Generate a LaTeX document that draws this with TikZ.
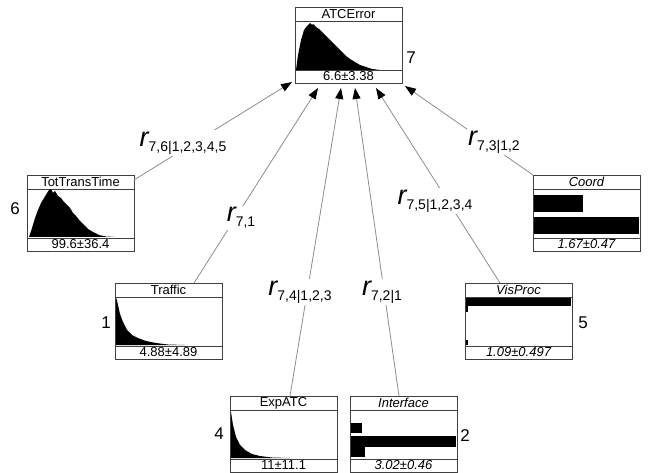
\documentclass[tikz,border=0pt]{standalone}
\usepackage{fontspec}
\setmainfont{Liberation Sans}
\usetikzlibrary{arrows.meta,calc}
\tikzset{
  nbox/.style={draw=black!75, line width=0.8pt, minimum width=107pt, minimum height=76pt, inner sep=0pt, outer sep=0pt},
  sep/.style={draw=black!75, line width=0.8pt},
  ttl/.style={font=\fontsize{13}{13}\selectfont, inner sep=0pt},
  conn/.style={draw=black!45, line width=0.8pt, -{Triangle[length=11pt,width=8pt,fill=black,color=black]}},
  rlab/.style={fill=white, inner sep=1.5pt},
  num/.style={font=\fontsize{17}{17}\selectfont, inner sep=0pt},
  bar/.style={fill=black, draw=none}
}
\newcommand{\histbox}[6]{%
  \node[nbox, anchor=north west] (#1) at (#2,#3) {};
  \draw[sep] ([yshift=-14pt]#1.north west) -- ([yshift=-14pt]#1.north east);
  \draw[sep] ([yshift=13pt]#1.south west) -- ([yshift=13pt]#1.south east);
  \node[ttl] at ([yshift=-7pt]#1.north) {#6#4};
  \node[ttl] at ([yshift=6.5pt]#1.south) {#6#5};
}
\newcommand{\rlabel}[1]{{\fontsize{27}{27}\selectfont\itshape r}\raisebox{-5pt}{\fontsize{14}{14}\selectfont #1}}
\begin{document}
\begin{tikzpicture}[x=1pt,y=-1pt]
\useasboundingbox (0,0) rectangle (648,473);
% boxes
\histbox{ATC}{295}{7}{ATCError}{6.6±3.38}{}
\histbox{TT}{27}{175}{TotTransTime}{99.6±36.4}{}
\histbox{TR}{115}{283}{Traffic}{4.88±4.89}{}
\histbox{EX}{230}{396}{ExpATC}{11±11.1}{}
\histbox{IF}{350}{396}{Interface}{3.02±0.46}{\itshape}
\histbox{VP}{465}{283}{VisProc}{1.09±0.497}{\itshape}
\histbox{CO}{533}{175}{Coord}{1.67±0.47}{\itshape}
% histograms
\fill[black] (296,70) -- (298,55) -- (301,40) -- (304,30) -- (307,26) -- (310,23) -- (312,25) -- (313,24) -- (316,27) -- (319,29) -- (322,32) -- (325,35) -- (328,38) -- (331,41) -- (334,44) -- (338,48) -- (342,52) -- (346,56) -- (350,59) -- (355,62) -- (360,65) -- (366,67) -- (372,69) -- (380,70) -- cycle;
\fill[black] (29,237) -- (32,228) -- (35,218) -- (38,210) -- (41,203) -- (44,198) -- (47,193) -- (49,190) -- (51,189) -- (53,193) -- (55,191) -- (58,196) -- (61,198) -- (64,202) -- (67,205) -- (70,208) -- (73,213) -- (76,216) -- (80,221) -- (84,225) -- (88,229) -- (93,232) -- (99,235) -- (106,236.5) -- (115,237) -- cycle;
\fill[black] (116,345) -- (116,297) -- (118,305) -- (120,314) -- (123,322) -- (127,330) -- (132,335) -- (138,338) -- (146,341) -- (156,343) -- (168,344.5) -- (185,345) -- cycle;
\fill[black] (231,458) -- (231,412) -- (233,425) -- (236,437) -- (240,445) -- (245,450) -- (252,454) -- (260,456) -- (272,457.5) -- (290,458) -- cycle;
\fill[bar] (351,423) rectangle (362,433);
\fill[bar] (351,436) rectangle (456,447);
\fill[bar] (351,447) rectangle (365,457);
\fill[bar] (466,298) rectangle (571,306);
\fill[bar] (466,306) rectangle (468,312);
\fill[bar] (466,340) rectangle (467.5,345);
\fill[bar] (534,195) rectangle (583,212);
\fill[bar] (534,217) rectangle (639,234);
% numbers
\node[num] (n7) at (411,58) {7};
\node[num] (n6) at (15,209) {6};
\node[num] (n1) at (106,323) {1};
\node[num] (n4) at (219,434) {4};
\node[num] (n2) at (465,436) {2};
\node[num] (n5) at (583,323) {5};
% connectors
\draw[conn] ([yshift=-5pt]TT.north east) -- ([xshift=-3pt,yshift=1pt]ATC.south west);
\draw[conn] ([xshift=79pt]TR.north west) -- ([xshift=23pt,yshift=-5pt]ATC.south west);
\draw[conn] ([xshift=60pt]EX.north west) -- ([xshift=46pt,yshift=-5pt]ATC.south west);
\draw[conn] ([xshift=49pt]IF.north west) -- ([xshift=60pt,yshift=-5pt]ATC.south west);
\draw[conn] ([xshift=35pt]VP.north west) -- ([xshift=81pt,yshift=-5pt]ATC.south west);
\draw[conn] (CO.north west) -- ([xshift=110pt,yshift=-3pt]ATC.south west);
% labels
\node[rlab] (l6) at (183,143) {\rlabel{7,6|1,2,3,4,5}};
\node[rlab] (l1) at (241,218) {\rlabel{7,1}};
\node[rlab] (l4) at (300,292) {\rlabel{7,4|1,2,3}};
\node[rlab] (l2) at (382,292) {\rlabel{7,2|1}};
\node[rlab] (l5) at (435,201) {\rlabel{7,5|1,2,3,4}};
\node[rlab] (l3) at (494,142) {\rlabel{7,3|1,2}};
\end{tikzpicture}
\end{document}
